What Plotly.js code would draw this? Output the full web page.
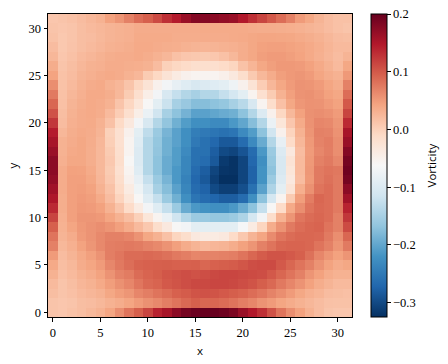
<!DOCTYPE html>
<html>
<head>
<meta charset="utf-8">
<script src="https://cdn.plot.ly/plotly-3.0.1.min.js"></script>
<style>html,body{margin:0;padding:0;background:#fff}</style>
</head>
<body>
<div id="graphDiv" style="width:448px;height:364px"></div>
<script>
// Vorticity field. First row is y = 0, last is y = 31
var vorticity = [
[.012,.01,.014,.018,.024,.03,.042,.06,.08,.096,.115,.14,.155,.175,.19,.197, .2,.2,.195,.185,.165,.148,.13,.105,.08,.06,.045,.03,.02,.012,.01,.01],
[.012,.01,.012,.018,.02,.024,.03,.035,.042,.05,.058,.064,.072,.08,.088,.095, .09,.09,.086,.08,.072,.066,.056,.05,.042,.036,.03,.025,.02,.015,.014,.014],
[.018,.012,.016,.022,.026,.03,.04,.048,.054,.066,.072,.08,.086,.094,.098,.104, .105,.104,.1,.096,.092,.085,.078,.068,.06,.05,.04,.032,.027,.02,.018,.016],
[.022,.012,.018,.026,.03,.038,.048,.058,.066,.078,.088,.092,.1,.104,.108,.112, .112,.114,.114,.112,.108,.104,.096,.088,.076,.066,.056,.045,.035,.028,.022,.022],
[.03,.016,.022,.03,.036,.044,.056,.068,.074,.086,.092,.096,.102,.105,.108,.105, .108,.112,.114,.114,.112,.11,.108,.1,.09,.08,.07,.055,.045,.035,.03,.03],
[.038,.018,.024,.036,.042,.05,.065,.076,.084,.092,.094,.095,.096,.094,.094,.095, .09,.094,.096,.098,.102,.108,.11,.11,.1,.09,.08,.07,.056,.044,.036,.04],
[.05,.02,.028,.038,.046,.056,.072,.078,.086,.086,.088,.086,.082,.076,.072,.066, .068,.068,.07,.072,.08,.09,.098,.104,.104,.1,.095,.082,.066,.055,.045,.055],
[.07,.024,.032,.044,.054,.064,.072,.074,.076,.074,.068,.064,.056,.046,.036,.028, .022,.026,.028,.035,.045,.055,.07,.08,.09,.092,.092,.09,.08,.07,.055,.075],
[.08,.028,.036,.05,.056,.064,.07,.07,.066,.056,.04,.03,.015,-.005,-.015,-.035, -.04,-.04,-.035,-.012,.008,.028,.042,.062,.078,.086,.09,.09,.088,.075,.06,.09],
[.095,.03,.042,.052,.056,.06,.055,.046,.036,.022,.008,-.015,-.035,-.06,-.07,-.09, -.09,-.09,-.09,-.09,-.065,-.04,-.005,.035,.056,.075,.085,.09,.092,.08,.07,.11],
[.115,.032,.046,.054,.054,.052,.042,.03,.018,0,-.03,-.055,-.08,-.115,-.14,-.16, -.16,-.165,-.165,-.16,-.145,-.11,-.07,-.015,.03,.055,.078,.086,.09,.085,.07,.125],
[.135,.034,.046,.052,.05,.045,.03,.012,-.012,-.04,-.07,-.095,-.125,-.16,-.195,-.215, -.22,-.225,-.225,-.215,-.195,-.17,-.125,-.06,-.012,.038,.06,.08,.088,.085,.075,.14],
[.15,.034,.046,.05,.047,.037,.02,-.003,-.03,-.06,-.095,-.125,-.16,-.19,-.225,-.255, -.265,-.272,-.28,-.28,-.265,-.225,-.17,-.11,-.055,.006,.048,.073,.09,.085,.075,.16],
[.16,.036,.046,.048,.044,.03,.014,-.01,-.04,-.075,-.11,-.15,-.175,-.205,-.235,-.265, -.275,-.3,-.31,-.31,-.295,-.26,-.205,-.145,-.09,-.025,.033,.058,.08,.085,.075,.175],
[.17,.036,.046,.046,.04,.026,.008,-.016,-.05,-.085,-.125,-.16,-.185,-.215,-.24,-.27, -.285,-.31,-.325,-.325,-.305,-.275,-.22,-.16,-.1,-.035,.02,.052,.075,.082,.075,.19],
[.175,.036,.045,.044,.037,.024,.006,-.02,-.055,-.095,-.14,-.17,-.195,-.215,-.235,-.265, -.28,-.305,-.32,-.322,-.305,-.275,-.22,-.17,-.105,-.03,.022,.053,.075,.08,.077,.195],
[.175,.032,.04,.04,.034,.024,.008,-.016,-.06,-.1,-.14,-.17,-.195,-.21,-.235,-.26, -.265,-.285,-.315,-.322,-.305,-.27,-.225,-.165,-.105,-.025,.022,.052,.07,.075,.065,.19],
[.165,.03,.038,.04,.034,.024,.006,-.018,-.055,-.1,-.14,-.167,-.19,-.21,-.23,-.26, -.26,-.28,-.3,-.305,-.29,-.265,-.215,-.16,-.1,-.035,.02,.05,.065,.072,.06,.18],
[.155,.03,.036,.04,.035,.025,.002,-.02,-.055,-.095,-.14,-.165,-.19,-.205,-.225,-.25, -.26,-.27,-.285,-.285,-.265,-.23,-.195,-.14,-.085,-.012,.025,.052,.068,.073,.06,.165],
[.145,.025,.034,.038,.036,.028,0,-.02,-.05,-.09,-.13,-.16,-.185,-.205,-.225,-.245, -.25,-.255,-.26,-.255,-.23,-.21,-.17,-.115,-.05,-.003,.03,.055,.07,.068,.057,.155],
[.125,.02,.032,.036,.037,.03,.015,-.01,-.035,-.07,-.105,-.14,-.167,-.19,-.21,-.225, -.225,-.23,-.23,-.215,-.2,-.175,-.14,-.08,-.03,.01,.037,.057,.066,.064,.054,.135],
[.105,.018,.03,.036,.038,.035,.022,.004,-.018,-.045,-.08,-.115,-.15,-.17,-.187,-.205, -.205,-.2,-.195,-.19,-.17,-.14,-.1,-.05,-.007,.024,.045,.058,.06,.057,.05,.115],
[.09,.016,.028,.034,.038,.036,.03,.012,-.006,-.03,-.06,-.09,-.12,-.15,-.162,-.175, -.175,-.17,-.165,-.15,-.135,-.105,-.055,-.015,.016,.04,.053,.057,.056,.05,.044,.1],
[.075,.015,.025,.032,.038,.038,.034,.024,.005,-.018,-.045,-.07,-.105,-.125,-.14,-.15, -.14,-.14,-.125,-.11,-.09,-.055,-.02,.005,.03,.046,.056,.058,.053,.045,.04,.085],
[.06,.014,.022,.03,.036,.038,.03,.025,.012,-.006,-.025,-.05,-.07,-.085,-.095,-.105, -.1,-.095,-.09,-.075,-.05,-.025,.004,.025,.04,.05,.056,.055,.05,.042,.035,.07],
[.043,.014,.02,.028,.032,.036,.038,.036,.03,.025,.005,-.008,-.025,-.04,-.05,-.055, -.055,-.055,-.048,-.035,-.015,.007,.024,.036,.047,.052,.054,.05,.042,.035,.03,.052],
[.035,.012,.018,.025,.03,.032,.036,.036,.034,.033,.03,.02,0,-.007,-.012,-.018, -.018,-.018,-.012,-.005,.014,.027,.04,.047,.052,.052,.05,.045,.038,.03,.022,.04],
[.025,.01,.015,.022,.026,.03,.034,.036,.036,.038,.035,.03,.025,.015,.01,.008, .007,.009,.015,.024,.035,.04,.047,.05,.05,.047,.043,.038,.032,.026,.02,.028],
[.02,.008,.013,.018,.022,.026,.03,.032,.034,.038,.038,.036,.034,.033,.03,.028, .027,.028,.03,.032,.035,.04,.045,.046,.046,.044,.042,.038,.033,.027,.022,.022],
[.014,.008,.012,.018,.02,.024,.028,.03,.032,.037,.037,.037,.037,.035,.035,.035, .036,.036,.036,.037,.038,.04,.042,.042,.041,.04,.037,.034,.03,.025,.02,.018],
[.012,.01,.012,.018,.022,.025,.028,.03,.032,.036,.036,.036,.036,.036,.036,.036, .037,.037,.037,.037,.037,.036,.035,.035,.034,.033,.031,.028,.025,.02,.015,.012],
[.01,.012,.015,.02,.025,.03,.045,.055,.07,.085,.095,.11,.13,.145,.165,.18, .18,.175,.17,.165,.148,.13,.115,.1,.085,.07,.05,.04,.028,.02,.015,.015]
];

var axisTicks = [0, 5, 10, 15, 20, 25, 30];
var cbarTicks = [-0.3, -0.2, -0.1, 0, 0.1, 0.2];
var cbarLabels = ["\u22120.3", "\u22120.2", "\u22120.1", "0.0", "0.1", "0.2"];

// matplotlib RdBu_r
var rdbu = [
    [0.0, "#053061"], [0.1, "#2166ac"], [0.2, "#4393c3"], [0.3, "#92c5de"],
    [0.4, "#d1e5f0"], [0.5, "#f7f7f7"], [0.6, "#fddbc7"], [0.7, "#f4a582"],
    [0.8, "#d6604d"], [0.9, "#b2182b"], [1.0, "#67001f"]
];

var serif = "Liberation Serif, serif";
var sans = "Open Sans, DejaVu Sans, sans-serif";

var trace = {
    z: vorticity,
    type: "heatmap",
    zmin: -0.325,
    zmax: 0.2,
    zsmooth: false,
    colorscale: rdbu,
    hoverinfo: "none",
    colorbar: {
        x: 1.0625,
        xanchor: "left",
        y: 0.5,
        yanchor: "middle",
        len: 1,
        lenmode: "fraction",
        thickness: 16,
        thicknessmode: "pixels",
        xpad: 0,
        ypad: 0,
        outlinewidth: 1,
        outlinecolor: "#000",
        ticks: "outside",
        ticklen: 3.5,
        tickwidth: 0.8,
        tickcolor: "#000",
        tickmode: "array",
        tickvals: cbarTicks,
        ticktext: cbarLabels,
        tickfont: { family: serif, size: 12.5, color: "#000" }
    }
};

var commonAxis = {
    tickmode: "array",
    tickvals: axisTicks,
    ticks: "outside",
    ticklen: 3.5,
    tickwidth: 0.8,
    tickcolor: "#000",
    tickfont: { family: serif, size: 12.5, color: "#000" },
    showgrid: false,
    zeroline: false,
    showline: true,
    mirror: true,
    linecolor: "#000",
    linewidth: 1,
    range: [-0.5, 31.5]
};

var layout = {
    width: 448,
    height: 364,
    margin: { l: 48, r: 96, t: 14, b: 47 },
    paper_bgcolor: "#fff",
    plot_bgcolor: "#fff",
    xaxis: Object.assign({}, commonAxis, { title: { text: "x", standoff: 8, font: { family: sans, size: 11.5, color: "#000" } } }),
    yaxis: Object.assign({}, commonAxis, { title: { text: "y", standoff: 8, font: { family: sans, size: 11.5, color: "#000" } } }),
    // colorbar titles on the right read downwards, the reference reads upwards
    annotations: [{
        text: "Vorticity",
        xref: "paper",
        yref: "paper",
        x: 1.263,
        y: 0.5,
        xanchor: "center",
        yanchor: "middle",
        textangle: -90,
        showarrow: false,
        font: { family: sans, size: 11.5, color: "#000" }
    }]
};

Plotly.newPlot("graphDiv", [trace], layout, { displayModeBar: false, responsive: false });
</script>
</body>
</html>
